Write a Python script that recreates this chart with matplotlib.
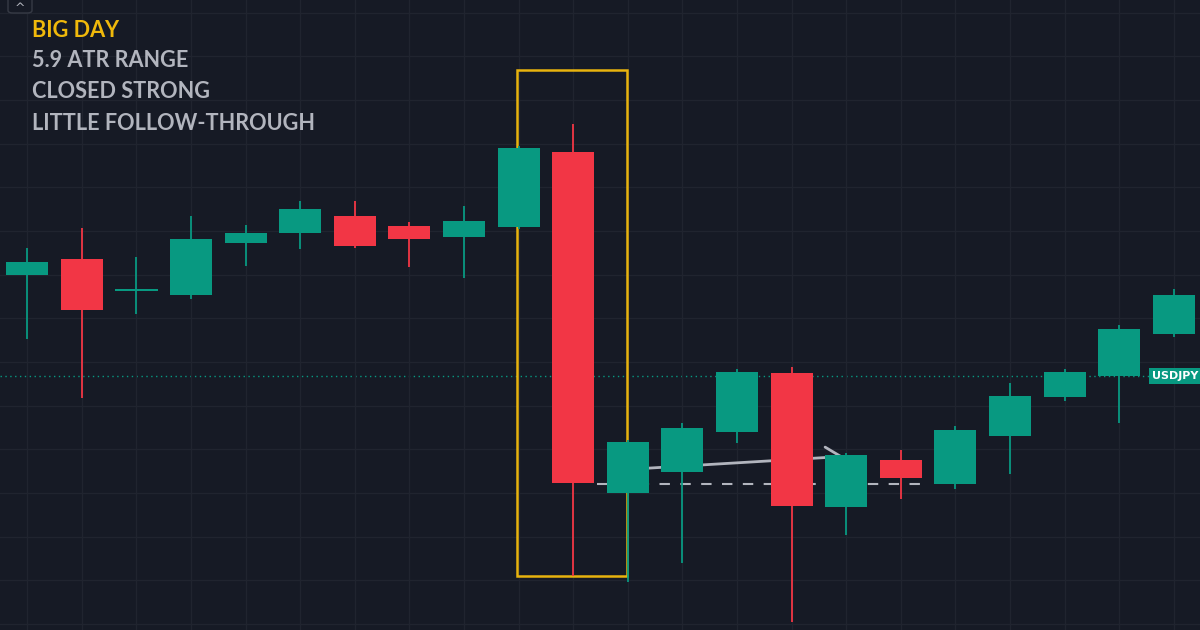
import matplotlib.pyplot as plt
import numpy as np
from matplotlib.patches import Rectangle, FancyBboxPatch

# daily candles, USDJPY
opens  = [151.00, 151.18, 150.81, 150.77, 151.36, 151.48, 151.67, 151.56, 151.43, 151.55, 152.41,
          148.50, 148.74, 149.20, 149.87, 148.34, 148.88, 148.60, 149.15, 149.60, 149.84, 150.32]
highs  = [151.31, 151.53, 151.20, 151.67, 151.57, 151.84, 151.84, 151.60, 151.79, 152.47, 152.73,
          149.11, 149.30, 149.92, 149.94, 148.96, 148.99, 149.27, 149.76, 149.92, 150.42, 150.84]
lows   = [150.26, 149.59, 150.55, 150.72, 151.10, 151.29, 151.31, 151.09, 150.96, 151.52, 147.55,
          147.48, 147.70, 149.07, 147.02, 148.02, 148.43, 148.55, 148.72, 149.55, 149.30, 150.29]
closes = [151.15, 150.60, 150.82, 151.41, 151.48, 151.75, 151.33, 151.41, 151.62, 152.45, 148.61,
          149.08, 149.24, 149.89, 148.35, 148.93, 148.67, 149.22, 149.61, 149.89, 150.38, 150.77]

symbol = "USDJPY"
last_price = 149.84
notes = ["BIG DAY", "5.9 ATR RANGE", "CLOSED STRONG", "LITTLE FOLLOW-THROUGH"]

box_x = [8.97, 10.98]
box_y = [147.55, 153.34]
level = 148.60
level_x = [10.43, 16.53]
trend_x = [11.0, 15.0]
trend_y = [148.77, 148.92]

bg = '#161a25'
up, down = '#089981', '#f23645'
grey = '#b2b5be'

fig = plt.figure(figsize=(12, 6.3), dpi=100, facecolor=bg)
ax = fig.add_axes([0, 0, 1, 1], facecolor=bg)

x = np.arange(len(opens))
o, h, l, c = map(np.array, (opens, highs, lows, closes))
cols = np.where(c >= o, up, down)

ax.vlines(x, l, h, colors=cols, lw=1.3, zorder=3)
bottoms = np.minimum(o, c)
heights = np.maximum(np.abs(c - o), 0.025)
ax.bar(x, heights, bottom=bottoms, width=0.77, color=cols, zorder=4)

# big day box
ax.add_patch(Rectangle((box_x[0], box_y[0]), box_x[1] - box_x[0], box_y[1] - box_y[0],
                       fill=False, ec='#e8b30e', lw=1.8, zorder=2))

# breakout level + drift line
ax.plot(level_x, [level, level], color=grey, lw=1.5, ls=(0, (5, 5)), zorder=2)
ax.annotate('', xy=(trend_x[1], trend_y[1]), xytext=(trend_x[0], trend_y[0]),
            arrowprops=dict(arrowstyle='->,head_length=1.1,head_width=0.75', color=grey, lw=2),
            zorder=2)

# last price line
ax.axhline(last_price, color=up, lw=1, ls=(0, (1, 2.5)), zorder=1)
ax.text(21.45, last_price, symbol, color='white', fontsize=8, fontweight='bold',
        ha='right', va='center', zorder=6,
        bbox=dict(boxstyle='square,pad=0.3', fc=up, ec='none'))

ax.set_xlim(-0.5, 21.48)
ax.set_ylim(146.93, 154.147)
ax.set_xticks(x)
ax.set_yticks(np.arange(147, 154.5, 0.5))
ax.grid(color='#20242f', lw=1, zorder=0)
ax.tick_params(length=0, labelbottom=False, labelleft=False)
for s in ax.spines.values():
    s.set_visible(False)

# notes
ys = [37, 67, 98, 130]
for i, t in enumerate(notes):
    fig.text(32 / 1200, 1 - ys[i] / 630, t, color='#f0b90b' if i == 0 else grey,
             fontsize=15.6, family='Lato', fontweight='bold', va='baseline', ha='left')

# collapse button
fig.patches.append(FancyBboxPatch((8 / 1200, 1 - 13 / 630), 24 / 1200, 20 / 630,
                                  boxstyle='round,pad=0,rounding_size=0.004',
                                  transform=fig.transFigure, fc=bg, ec='#363a45', lw=1))
fig.text(20 / 1200, 1 - 9 / 630, '^', color=grey, fontsize=9, ha='center', va='center')

plt.savefig('out.png', dpi=100, facecolor=bg)
